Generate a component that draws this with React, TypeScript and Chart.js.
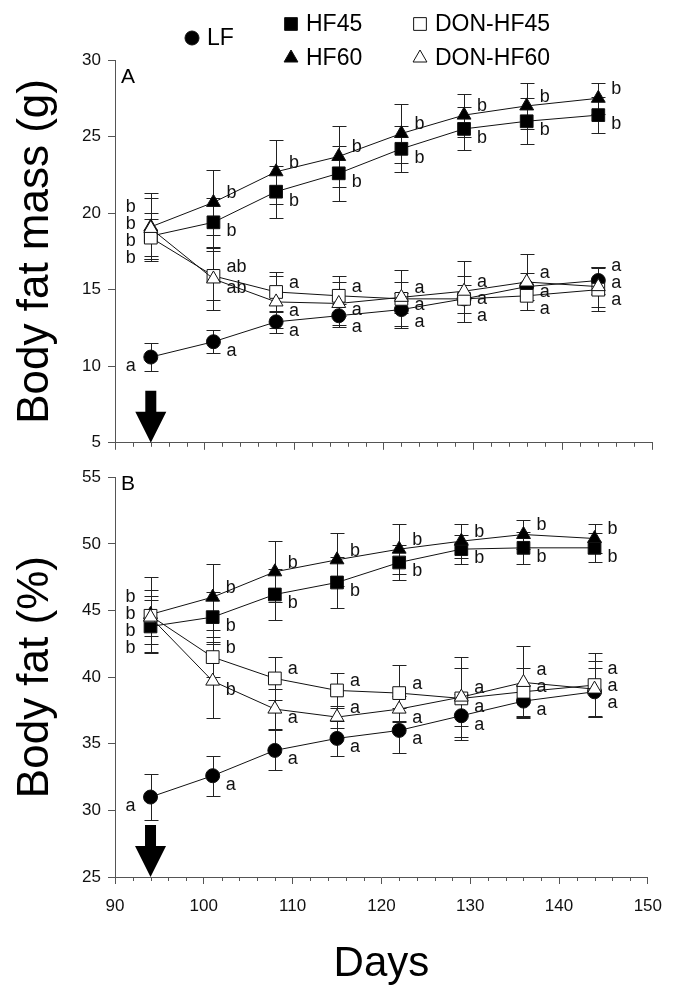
import React, { useEffect, useRef } from 'react';
import { Chart, registerables } from 'chart.js';
import { drawPoint } from 'chart.js/helpers';

Chart.register(...registerables);

// ---------- data ----------
const days = [94, 101, 108, 115, 122, 129, 136, 144];
const seriesNames = ['LF', 'HF45', 'HF60', 'DON-HF45', 'DON-HF60'];
const xTickValues = [90, 100, 110, 120, 130, 140, 150];
const arrowDay = 94;

// Panel A: body fat mass (g)
const massLF = [10.6, 11.6, 12.9, 13.3, 13.7, 14.4, 15.2, 15.6];
const massLFse = [0.9, 0.75, 0.7, 0.75, 1.1, 0.9, 0.9, 0.9];
const massHF45 = [18.5, 19.4, 21.4, 22.6, 24.2, 25.5, 26.0, 26.4];
const massHF45se = [1.5, 1.6, 1.7, 1.8, 1.5, 1.4, 1.5, 1.2];
const massHF60 = [19.1, 20.7, 22.7, 23.7, 25.2, 26.4, 27.0, 27.5];
const massHF60se = [2.2, 2.1, 2.1, 2.0, 1.9, 1.4, 1.5, 1.0];
const massDON45 = [18.4, 15.9, 14.85, 14.6, 14.4, 14.4, 14.6, 15.0];
const massDON45se = [1.2, 1.6, 1.3, 1.3, 1.9, 1.5, 0.9, 1.4];
const massDON60 = [19.0, 15.7, 14.2, 14.1, 14.5, 14.9, 15.5, 15.2];
const massDON60se = [2.0, 2.0, 1.7, 1.4, 1.0, 2.0, 1.8, 1.3];

const massLettersLF = ['a', 'a', 'a', 'a', 'a', 'a', 'a', 'a'];
const massLettersHF45 = ['b', 'b', 'b', 'b', 'b', 'b', 'b', 'b'];
const massLettersHF60 = ['b', 'b', 'b', 'b', 'b', 'b', 'b', 'b'];
const massLettersDON45 = ['b', 'ab', 'a', 'a', 'a', 'a', 'a', 'a'];
const massLettersDON60 = ['b', 'ab', 'a', 'a', 'a', 'a', 'a', 'a'];

// Panel B: body fat (%)
const pctLF = [31.0, 32.6, 34.5, 35.4, 36.0, 37.1, 38.2, 38.9];
const pctLFse = [1.7, 1.5, 1.5, 1.3, 1.7, 1.6, 1.2, 1.8];
const pctHF45 = [43.8, 44.5, 46.2, 47.1, 48.6, 49.6, 49.7, 49.7];
const pctHF45se = [2.0, 1.9, 1.9, 1.9, 1.3, 1.1, 1.2, 1.1];
const pctHF60 = [44.7, 46.0, 47.9, 48.8, 49.6, 50.2, 50.7, 50.4];
const pctHF60se = [2.8, 2.5, 2.3, 2.0, 1.9, 1.3, 1.1, 1.1];
const pctDON45 = [44.6, 41.5, 39.9, 39.0, 38.8, 38.4, 38.9, 39.4];
const pctDON45se = [1.5, 1.5, 1.6, 1.3, 2.1, 3.1, 1.8, 2.4];
const pctDON60 = [44.5, 39.7, 37.6, 37.0, 37.6, 38.5, 39.6, 39.1];
const pctDON60se = [2.0, 2.8, 1.5, 0.8, 1.0, 2.2, 2.7, 2.1];

const pctLettersLF = ['a', 'a', 'a', 'a', 'a', 'a', 'a', 'a'];
const pctLettersHF45 = ['b', 'b', 'b', 'b', 'b', 'b', 'b', 'b'];
const pctLettersHF60 = ['b', 'b', 'b', 'b', 'b', 'b', 'b', 'b'];
const pctLettersDON45 = ['b', 'b', 'a', 'a', 'a', 'a', 'a', 'a'];
const pctLettersDON60 = ['b', 'b', 'a', 'a', 'a', 'a', 'a', 'a'];

// ---------- styles ----------
const FONT = "'Liberation Sans', Arial, Helvetica, sans-serif";
const AXIS = '#555';
const INK = '#111';

const seriesStyle = [
  { pointStyle: 'circle', radius: 7, fill: '#000' },
  { pointStyle: 'rect', radius: 9, fill: '#000' },
  { pointStyle: 'triangle', radius: 8, fill: '#000' },
  { pointStyle: 'rect', radius: 9, fill: '#fff' },
  { pointStyle: 'triangle', radius: 8, fill: '#fff' },
];
const drawOrder = [5, 4, 3, 2, 1];

const legendLayout = [
  { x: 192, y: 38 },
  { x: 291, y: 24 },
  { x: 291, y: 58 },
  { x: 420, y: 24 },
  { x: 420, y: 58 },
];

type Panel = {
  values: number[][];
  errors: number[][];
  letters: string[][];
  yMin: number;
  yMax: number;
  yTitle: string;
  label: string;
  labelY: number;
  showX: boolean;
  xHeight: number;
  padTop: number;
  legend: boolean;
};

function spreadLabels(items: { y: number; ly?: number }[], gap: number) {
  items.sort((a, b) => a.y - b.y);
  let clusters = items.map((it) => ({ items: [it], center: it.y }));
  let changed = true;
  while (changed) {
    changed = false;
    for (let i = 0; i < clusters.length - 1; i++) {
      const a = clusters[i];
      const b = clusters[i + 1];
      const aBottom = a.center + ((a.items.length - 1) * gap) / 2;
      const bTop = b.center - ((b.items.length - 1) * gap) / 2;
      if (bTop - aBottom < gap) {
        const merged = a.items.concat(b.items);
        const center = merged.reduce((s, it) => s + it.y, 0) / merged.length;
        clusters.splice(i, 2, { items: merged, center });
        changed = true;
        break;
      }
    }
  }
  clusters.forEach((c) =>
    c.items.forEach((it, k) => {
      it.ly = c.center + (k - (c.items.length - 1) / 2) * gap;
    })
  );
}

function buildConfig(p: Panel): any {
  const datasets = p.values.map((vals, s) => ({
    label: seriesNames[s],
    data: days.map((d, i) => ({ x: d, y: vals[i] })),
    se: p.errors[s],
    letters: p.letters[s],
    borderColor: INK,
    borderWidth: 1,
    pointStyle: seriesStyle[s].pointStyle,
    pointRadius: seriesStyle[s].radius,
    pointBackgroundColor: seriesStyle[s].fill,
    pointBorderColor: INK,
    pointBorderWidth: 1,
    fill: false,
    tension: 0,
    order: drawOrder[s],
  }));

  const errorBars = {
    id: 'errorBars',
    beforeDatasetsDraw(chart: any) {
      const { ctx } = chart;
      const xs = chart.scales.x;
      const ys = chart.scales.y;
      ctx.save();
      ctx.strokeStyle = '#222';
      ctx.lineWidth = 1;
      chart.data.datasets.forEach((ds: any) => {
        ds.data.forEach((pt: any, i: number) => {
          const x = Math.round(xs.getPixelForValue(pt.x)) + 0.5;
          const yt = Math.round(ys.getPixelForValue(pt.y + ds.se[i])) + 0.5;
          const yb = Math.round(ys.getPixelForValue(pt.y - ds.se[i])) + 0.5;
          ctx.beginPath();
          ctx.moveTo(x, yt);
          ctx.lineTo(x, yb);
          ctx.moveTo(x - 7, yt);
          ctx.lineTo(x + 7, yt);
          ctx.moveTo(x - 7, yb);
          ctx.lineTo(x + 7, yb);
          ctx.stroke();
        });
      });
      ctx.restore();
    },
  };

  const decorations = {
    id: 'decorations',
    afterDraw(chart: any) {
      const { ctx, chartArea } = chart;
      const xs = chart.scales.x;
      const ys = chart.scales.y;
      ctx.save();
      // minor x ticks every 2 days
      ctx.strokeStyle = AXIS;
      ctx.lineWidth = 1;
      ctx.beginPath();
      for (let d = 92; d < 150; d += 2) {
        if (d % 10 === 0) continue;
        const x = Math.round(xs.getPixelForValue(d)) + 0.5;
        ctx.moveTo(x, chartArea.bottom);
        ctx.lineTo(x, chartArea.bottom + 4);
      }
      ctx.stroke();

      // arrow
      const ax = xs.getPixelForValue(arrowDay);
      const ab = chartArea.bottom;
      ctx.fillStyle = '#000';
      ctx.beginPath();
      ctx.moveTo(ax, ab);
      ctx.lineTo(ax - 15.5, ab - 31);
      ctx.lineTo(ax - 5.5, ab - 31);
      ctx.lineTo(ax - 5.5, ab - 52);
      ctx.lineTo(ax + 5.5, ab - 52);
      ctx.lineTo(ax + 5.5, ab - 31);
      ctx.lineTo(ax + 15.5, ab - 31);
      ctx.closePath();
      ctx.fill();

      // panel label
      ctx.fillStyle = '#000';
      ctx.font = `21px ${FONT}`;
      ctx.textAlign = 'left';
      ctx.textBaseline = 'alphabetic';
      ctx.fillText(p.label, 121, p.labelY);

      // significance letters: upper member of a close pair above, lower below
      ctx.font = `18px ${FONT}`;
      ctx.textBaseline = 'middle';
      ctx.fillStyle = INK;
      days.forEach((d, i) => {
        const px = xs.getPixelForValue(d);
        const vals = chart.data.datasets.map((ds: any) => ds.data[i].y);
        const items: any[] = chart.data.datasets.map((ds: any, s: number) => {
          let nearest = -1;
          let best = Infinity;
          vals.forEach((v: number, k: number) => {
            if (k === s) return;
            const dist = Math.abs(v - vals[s]);
            if (dist < best) {
              best = dist;
              nearest = k;
            }
          });
          const dir = nearest >= 0 && vals[s] > vals[nearest] ? -1 : 1;
          return { text: ds.letters[i], y: ys.getPixelForValue(vals[s]) + dir * 9 };
        });
        spreadLabels(items, 17);
        items.forEach((it) => {
          if (i === 0) {
            ctx.textAlign = 'right';
            ctx.fillText(it.text, px - 15, it.ly);
          } else {
            ctx.textAlign = 'left';
            ctx.fillText(it.text, px + 13, it.ly);
          }
        });
      });

      // legend
      if (p.legend) {
        ctx.font = `23px ${FONT}`;
        ctx.textAlign = 'left';
        ctx.textBaseline = 'middle';
        seriesNames.forEach((name, s) => {
          const pos = legendLayout[s];
          ctx.fillStyle = seriesStyle[s].fill;
          ctx.strokeStyle = INK;
          ctx.lineWidth = 1;
          drawPoint(
            ctx,
            { pointStyle: seriesStyle[s].pointStyle as any, radius: seriesStyle[s].radius, rotation: 0, borderWidth: 1 } as any,
            pos.x,
            pos.y
          );
          ctx.fillStyle = '#000';
          ctx.fillText(name, pos.x + 15, pos.y + 1);
        });
      }
      ctx.restore();
    },
  };

  return {
    type: 'line',
    data: { datasets },
    options: {
      responsive: false,
      animation: false,
      events: [],
      layout: { padding: { left: 0, right: 22, top: p.padTop, bottom: 0 } },
      plugins: { legend: { display: false }, tooltip: { enabled: false } },
      scales: {
        x: {
          type: 'linear',
          min: 90,
          max: 150,
          afterBuildTicks: (scale: any) => {
            scale.ticks = xTickValues.map((v) => ({ value: v }));
          },
          ticks: {
            display: p.showX,
            font: { family: FONT, size: 17 },
            color: INK,
            padding: 12,
            maxRotation: 0,
          },
          grid: { drawOnChartArea: false, drawTicks: true, tickLength: 7, color: AXIS, lineWidth: 1 },
          border: { display: true, color: AXIS, width: 1 },
          title: p.showX
            ? {
                display: true,
                text: 'Days',
                font: { family: FONT, size: 42, lineHeight: 1 },
                color: '#000',
                padding: { top: 0, bottom: 3 },
              }
            : { display: false },
          afterFit: (scale: any) => {
            scale.height = p.xHeight;
          },
        },
        y: {
          type: 'linear',
          min: p.yMin,
          max: p.yMax,
          ticks: { stepSize: 5, font: { family: FONT, size: 17 }, color: INK, padding: 7 },
          grid: { drawOnChartArea: false, drawTicks: true, tickLength: 7, color: AXIS, lineWidth: 1 },
          border: { display: true, color: AXIS, width: 1 },
          title: {
            display: true,
            text: p.yTitle,
            font: { family: FONT, size: 44, lineHeight: 1 },
            color: '#000',
            padding: { top: 14, bottom: 0 },
          },
          afterFit: (scale: any) => {
            scale.width = 115;
          },
        },
      },
    },
    plugins: [errorBars, decorations],
  };
}

const panelA: Panel = {
  values: [massLF, massHF45, massHF60, massDON45, massDON60],
  errors: [massLFse, massHF45se, massHF60se, massDON45se, massDON60se],
  letters: [massLettersLF, massLettersHF45, massLettersHF60, massLettersDON45, massLettersDON60],
  yMin: 5,
  yMax: 30,
  yTitle: 'Body fat mass (g)',
  label: 'A',
  labelY: 83,
  showX: false,
  xHeight: 11,
  padTop: 60,
  legend: true,
};

const panelB: Panel = {
  values: [pctLF, pctHF45, pctHF60, pctDON45, pctDON60],
  errors: [pctLFse, pctHF45se, pctHF60se, pctDON45se, pctDON60se],
  letters: [pctLettersLF, pctLettersHF45, pctLettersHF60, pctLettersDON45, pctLettersDON60],
  yMin: 25,
  yMax: 55,
  yTitle: 'Body fat (%)',
  label: 'B',
  labelY: 30,
  showX: true,
  xHeight: 111,
  padTop: 15,
  legend: false,
};

export default function App() {
  const topRef = useRef<HTMLCanvasElement>(null);
  const botRef = useRef<HTMLCanvasElement>(null);

  useEffect(() => {
    document.body.style.margin = '0';
    const c1 = new Chart(topRef.current as HTMLCanvasElement, buildConfig(panelA));
    const c2 = new Chart(botRef.current as HTMLCanvasElement, buildConfig(panelB));
    return () => {
      c1.destroy();
      c2.destroy();
    };
  }, []);

  return (
    <div style={{ position: 'absolute', left: 0, top: 0, width: 674, height: 988, background: '#fff' }}>
      <canvas
        ref={topRef}
        width={674}
        height={460}
        style={{ position: 'absolute', left: 0, top: 0, width: 674, height: 460 }}
      />
      <canvas
        ref={botRef}
        width={674}
        height={528}
        style={{ position: 'absolute', left: 0, top: 460, width: 674, height: 528 }}
      />
    </div>
  );
}
